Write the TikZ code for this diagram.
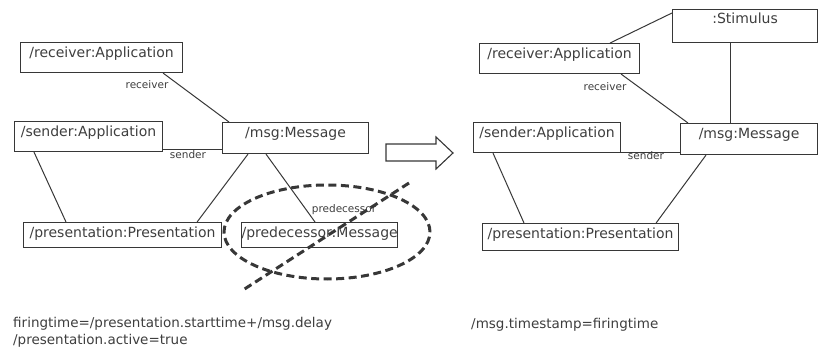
\documentclass[tikz,border=0pt]{standalone}
\usepackage{fontspec}
\setmainfont{DejaVu Sans}
\definecolor{ink}{RGB}{55,55,55}
\definecolor{txt}{RGB}{62,62,62}
\begin{document}
\begin{tikzpicture}[x=1pt,y=-1pt,
  obj/.style={draw=ink, line width=1.1pt, inner sep=0pt, anchor=north west,
    text height=15pt, font=\fontsize{14}{17}\selectfont, text=txt},
  role/.style={font=\fontsize{10.5}{12}\selectfont, text=txt, inner sep=0pt},
  link/.style={draw=ink, line width=1pt},
  strike/.style={draw=ink, line width=3pt, dash pattern=on 8pt off 4.5pt},
  note/.style={font=\fontsize{13.5}{17}\selectfont, text=txt, inner sep=0pt, anchor=base west}]
\useasboundingbox (0,0) rectangle (818,352);

% ---- before: object diagram with the predecessor link ----
\node[obj, minimum width=162pt, text depth=15pt] (lrec) at (20,42) {/receiver:Application};
\node[obj, minimum width=148pt, text depth=15pt] (lsnd) at (14,121) {/sender:Application};
\node[obj, minimum width=146pt, text depth=16pt] (lmsg) at (222,122) {/msg:Message};
\node[obj, minimum width=198pt, text depth=10pt] (lpre) at (23,222) {/presentation:Presentation};
\node[obj, minimum width=156pt, text depth=10pt] (lpred) at (241,222) {/predecessor:Message};

\draw[link] ([xshift=-20pt]lrec.south east) -- ([xshift=7pt]lmsg.north west);
\draw[link] ([yshift=3pt]lsnd.south east) -- ([yshift=3pt]lsnd.south east -| lmsg.west);
\draw[link] ([xshift=20pt]lsnd.south west) -- ([xshift=43pt]lpre.north west);
\draw[link] ([xshift=26pt]lmsg.south west) -- ([xshift=-25pt]lpre.north east);
\draw[link] ([xshift=44pt]lmsg.south west) -- ([xshift=74pt]lpred.north west);

\node[role] (lrecl) at (147,85) {receiver};
\node[role] (lsndl) at (188,155) {sender};
\node[role] (lpredl) at (344,210) {predecessor};

% removed part: dashed ellipse struck through
\coordinate (drop) at (327,232);
\draw[strike] (drop) ellipse [x radius=103pt, y radius=47pt];
\coordinate (crossA) at (409,183);
\coordinate (crossB) at (243,290);
\draw[strike] (crossA) -- (crossB);

% transformation arrow
\draw[ink, line width=1.1pt, fill=white, line join=miter]
  (386,144) -- (436,144) -- (436,137) -- (453,153) -- (436,169) -- (436,161) -- (386,161) -- cycle;

% ---- after: object diagram with the stimulus ----
\node[obj, minimum width=145pt, text height=14pt, text depth=19pt] (stim) at (672,9) {:Stimulus};
\node[obj, minimum width=160pt, text depth=15pt] (rrec) at (479,43) {/receiver:Application};
\node[obj, minimum width=147pt, text depth=15pt] (rsnd) at (473,122) {/sender:Application};
\node[obj, minimum width=137pt, text depth=16pt] (rmsg) at (680,123) {/msg:Message};
\node[obj, minimum width=196pt, text depth=12pt] (rpre) at (482,223) {/presentation:Presentation};

\draw[link] ([yshift=-4pt]stim.north west) -- ([xshift=-30pt]rrec.north east);
\draw[link] ([xshift=58pt]stim.south west) -- ([xshift=58pt]stim.south west |- rmsg.north);
\draw[link] ([xshift=-19pt]rrec.south east) -- ([xshift=8pt]rmsg.north west);
\draw[link] ([yshift=1pt]rsnd.south east) -- ([yshift=1pt]rsnd.south east -| rmsg.west);
\draw[link] ([xshift=20pt]rsnd.south west) -- ([xshift=42pt]rpre.north west);
\draw[link] ([xshift=26pt]rmsg.south west) -- ([xshift=-23pt]rpre.north east);

\node[role] (rrecl) at (605,87) {receiver};
\node[role] (rsndl) at (646,156) {sender};

% ---- constraints ----
\node[note] (cond1) at (13,327) {firingtime=/presentation.starttime+/msg.delay};
\node[note] (cond2) at (13,344) {/presentation.active=true};
\node[note] (effect) at (471,328) {/msg.timestamp=firingtime};
\end{tikzpicture}
\end{document}
